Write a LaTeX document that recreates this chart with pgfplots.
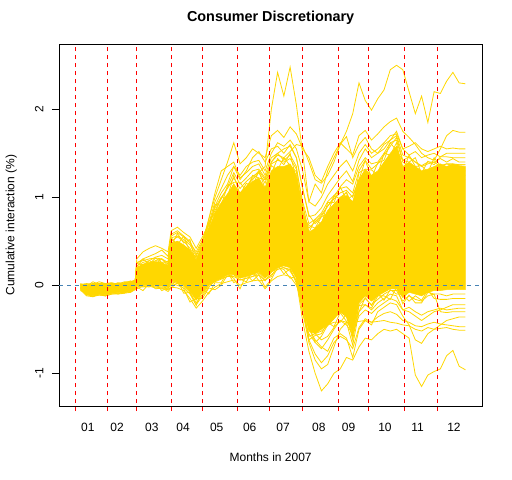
\documentclass[border=0pt]{standalone}
\usepackage{pgfplots}
\pgfplotsset{compat=1.18}
\usepackage{pgfplotstable}
\usepackage{fontspec}
\setmainfont{Liberation Sans}
\definecolor{rgold}{RGB}{255,215,0}
\definecolor{steel}{RGB}{70,130,180}

\pgfplotstableread{
t a b c d e f g h i j k l m n o p
3 0.00 0.00 -0.01 0.01 -0.05 -0.04 -0.03 -0.04 -0.03 0.00 0.00 -0.01 -0.02 0.01 -0.02 0.00
7 -0.01 0.00 -0.02 0.01 -0.12 -0.10 -0.08 -0.11 -0.10 -0.02 -0.01 -0.03 -0.07 0.00 -0.09 -0.04
11 0.00 0.01 -0.01 0.02 -0.13 -0.11 -0.09 -0.12 -0.12 -0.02 0.00 -0.04 -0.08 0.01 -0.10 -0.05
15 0.01 0.01 0.00 0.02 -0.11 -0.09 -0.08 -0.10 -0.11 -0.01 0.00 -0.03 -0.07 0.02 -0.09 -0.04
19 0.01 0.02 0.00 0.02 -0.12 -0.10 -0.09 -0.11 -0.12 -0.01 0.01 -0.03 -0.08 0.02 -0.10 -0.04
23 0.00 0.01 0.01 0.02 -0.10 -0.08 -0.07 -0.09 -0.10 0.00 0.01 -0.02 -0.06 0.01 -0.08 -0.03
27 0.01 0.02 0.00 0.02 -0.10 -0.08 -0.06 -0.09 -0.09 0.00 0.01 -0.02 -0.05 0.01 -0.07 -0.03
31 0.02 0.02 0.01 0.03 -0.09 -0.07 -0.06 -0.08 -0.08 0.01 0.02 -0.01 -0.05 0.02 -0.07 -0.02
35 0.03 0.03 0.02 0.04 -0.08 -0.06 -0.05 -0.07 -0.07 0.01 0.02 0.00 -0.04 0.03 -0.06 -0.01
38 0.04 0.05 0.03 0.05 -0.05 -0.03 -0.02 -0.04 -0.04 0.02 0.03 0.02 -0.01 0.04 -0.03 0.01
39 0.20 0.25 0.30 0.26 0.00 0.02 0.05 0.00 -0.01 0.18 0.15 0.12 0.08 0.22 0.03 0.10
43 0.24 0.30 0.38 0.28 -0.01 0.01 0.06 0.00 -0.02 0.22 0.18 0.15 0.10 0.26 0.02 0.12
47 0.22 0.33 0.42 0.30 0.00 0.03 0.08 0.01 -0.01 0.25 0.20 0.18 0.12 0.28 0.04 0.14
51 0.26 0.36 0.45 0.31 -0.02 0.01 0.07 -0.01 -0.03 0.28 0.22 0.20 0.10 0.32 0.03 0.16
55 0.24 0.40 0.42 0.30 -0.03 0.00 0.05 -0.02 -0.04 0.30 0.20 0.18 0.08 0.34 0.02 0.15
59 0.20 0.33 0.38 0.26 -0.04 -0.01 0.03 -0.03 -0.05 0.24 0.17 0.14 0.06 0.30 0.00 0.12
61 0.45 0.58 0.62 0.54 0.02 0.10 0.20 0.04 -0.02 0.50 0.40 0.42 0.25 0.56 0.15 0.35
65 0.50 0.62 0.66 0.56 0.00 0.08 0.18 0.02 -0.03 0.55 0.45 0.48 0.22 0.60 0.12 0.38
69 0.44 0.56 0.60 0.52 -0.03 0.05 0.14 -0.01 -0.06 0.50 0.40 0.45 0.18 0.55 0.08 0.35
73 0.40 0.50 0.55 0.46 -0.10 -0.02 0.05 -0.08 -0.15 0.42 0.35 0.38 0.10 0.48 0.00 0.30
77 0.28 0.35 0.42 0.33 -0.22 -0.15 -0.08 -0.20 -0.26 0.30 0.22 0.25 -0.02 0.38 -0.12 0.18
81 0.42 0.50 0.55 0.48 -0.12 -0.05 0.02 -0.10 -0.18 0.45 0.38 0.45 0.08 0.52 -0.02 0.32
85 0.62 0.75 0.70 0.70 -0.02 0.05 0.15 0.00 -0.08 0.65 0.58 0.75 0.22 0.68 0.10 0.50
89 0.80 1.00 0.95 0.88 0.05 0.10 0.25 0.04 -0.02 0.90 0.78 1.05 0.32 0.85 0.18 0.65
93 0.92 1.20 1.10 1.00 0.08 0.12 0.30 0.07 0.02 1.05 0.90 1.30 0.38 0.98 0.22 0.75
97 1.02 1.40 1.25 1.10 0.10 0.15 0.32 0.10 0.04 1.15 1.00 1.35 0.42 1.12 0.25 0.85
101 1.10 1.62 1.35 1.22 0.12 0.18 0.35 0.10 0.06 1.35 1.15 1.40 0.45 1.28 0.28 0.95
105 1.05 1.38 1.25 1.10 0.06 0.12 0.28 0.06 0.00 1.20 1.02 1.22 0.38 1.15 0.20 0.85
109 1.12 1.45 1.35 1.18 0.08 0.15 0.30 0.08 0.03 1.30 1.12 1.28 0.40 1.22 0.22 0.92
113 1.20 1.55 1.40 1.24 0.10 0.18 0.34 0.10 0.05 1.45 1.22 1.35 0.44 1.30 0.26 0.98
117 1.28 1.50 1.42 1.28 0.12 0.20 0.36 0.14 0.06 1.52 1.30 1.38 0.48 1.32 0.28 1.05
121 1.35 1.45 1.30 1.16 0.05 0.10 0.25 0.06 -0.04 1.40 1.20 1.25 0.35 1.22 0.18 0.95
125 2.00 1.70 1.50 1.38 0.15 0.25 0.40 0.12 0.05 1.55 1.40 1.45 0.50 1.40 0.30 1.15
129 2.42 1.76 1.62 1.42 0.22 0.30 0.45 0.18 0.10 1.58 1.48 1.50 0.55 1.50 0.35 1.22
133 2.15 1.68 1.58 1.40 0.20 0.28 0.48 0.20 0.12 1.50 1.45 1.42 0.58 1.55 0.36 1.25
137 2.48 1.80 1.65 1.44 0.18 0.26 0.45 0.16 0.10 1.60 1.52 1.48 0.55 1.58 0.34 1.28
141 2.05 1.72 1.55 1.32 0.05 0.12 0.35 0.05 0.00 1.45 1.60 1.35 0.45 1.45 0.22 1.18
145 1.50 1.55 1.30 0.95 -0.40 -0.30 -0.10 -0.30 -0.20 1.10 1.58 0.90 0.00 1.10 -0.20 0.80
149 0.95 1.45 0.95 0.70 -0.75 -0.65 -0.50 -0.58 -0.45 0.80 1.40 0.60 -0.40 0.78 -0.62 0.65
153 1.15 1.25 0.90 0.75 -1.00 -0.85 -0.62 -0.55 -0.65 0.70 1.20 0.55 -0.55 0.80 -0.78 0.72
157 1.05 1.18 1.00 0.82 -1.20 -0.95 -0.70 -0.52 -0.72 0.78 1.16 0.65 -0.62 0.88 -0.88 0.80
161 1.30 1.35 1.15 0.95 -1.12 -0.90 -0.75 -0.46 -0.62 0.90 1.25 0.80 -0.58 1.02 -0.80 0.90
165 1.45 1.50 1.25 1.02 -1.00 -0.70 -0.60 -0.38 -0.50 1.00 1.40 0.92 -0.48 1.12 -0.65 0.98
169 1.60 1.62 1.35 1.10 -0.95 -0.50 -0.55 -0.30 -0.40 1.12 1.60 1.00 -0.40 1.22 -0.58 1.05
173 1.75 1.55 1.42 1.12 -0.82 -0.42 -0.60 -0.36 -0.42 1.20 1.69 1.05 -0.45 1.30 -0.62 1.08
177 1.95 1.48 1.30 1.05 -0.85 -0.42 -0.82 -0.58 -0.68 1.15 1.45 0.85 -0.55 1.18 -0.72 1.00
181 2.30 1.70 1.50 1.30 -0.70 -0.41 -0.50 -0.22 -0.30 1.35 1.60 1.15 -0.35 1.42 -0.48 1.20
185 2.10 1.76 1.60 1.42 -0.60 -0.40 -0.40 -0.15 -0.22 1.45 1.68 1.30 -0.28 1.55 -0.38 1.30
189 1.99 1.65 1.50 1.32 -0.62 -0.42 -0.45 -0.22 -0.28 1.38 1.55 1.20 -0.32 1.45 -0.42 1.22
193 2.12 1.72 1.55 1.38 -0.55 -0.41 -0.30 -0.16 -0.20 1.40 1.50 1.25 -0.25 1.50 -0.36 1.28
197 2.22 1.80 1.62 1.48 -0.50 -0.40 -0.25 -0.10 -0.15 1.50 1.55 1.35 -0.20 1.60 -0.32 1.38
201 2.45 1.86 1.70 1.58 -0.52 -0.42 -0.20 -0.06 -0.10 1.62 1.65 1.45 -0.15 1.65 -0.30 1.48
205 2.50 1.90 1.72 1.68 -0.50 -0.43 -0.22 -0.06 -0.12 1.65 1.70 1.55 -0.18 1.75 -0.33 1.55
209 2.45 1.75 1.55 1.42 -0.55 -0.45 -0.35 -0.18 -0.28 1.40 1.48 1.30 -0.28 1.55 -0.40 1.30
213 2.20 1.68 1.48 1.46 -0.60 -0.46 -0.45 -0.12 -0.25 1.35 1.45 1.35 -0.30 1.58 -0.42 1.32
217 1.95 1.60 1.52 1.40 -1.02 -0.50 -0.62 -0.16 -0.30 1.30 1.40 1.28 -0.35 1.62 -0.46 1.28
221 2.15 1.50 1.45 1.36 -1.15 -0.52 -0.66 -0.18 -0.34 1.28 1.35 1.20 -0.40 1.55 -0.47 1.25
225 1.85 1.45 1.48 1.40 -1.02 -0.48 -0.55 -0.12 -0.30 1.25 1.38 1.22 -0.35 1.52 -0.44 1.28
229 2.20 1.42 1.50 1.40 -0.98 -0.50 -0.50 -0.10 -0.28 1.24 1.40 1.25 -0.30 1.55 -0.42 1.30
233 2.18 1.55 1.46 1.44 -0.95 -0.49 -0.45 -0.10 -0.26 1.26 1.35 1.20 -0.28 1.58 -0.44 1.32
237 2.32 1.70 1.50 1.40 -0.80 -0.48 -0.40 -0.12 -0.28 1.25 1.38 1.20 -0.25 1.55 -0.45 1.30
241 2.42 1.76 1.50 1.44 -0.74 -0.50 -0.38 -0.10 -0.27 1.25 1.38 1.20 -0.22 1.56 -0.46 1.30
245 2.30 1.74 1.50 1.40 -0.92 -0.51 -0.36 -0.10 -0.26 1.25 1.37 1.20 -0.22 1.55 -0.47 1.30
249 2.29 1.74 1.50 1.40 -0.96 -0.51 -0.36 -0.10 -0.26 1.25 1.37 1.20 -0.22 1.55 -0.47 1.30
}\data

\pgfplotstableread{
t q r s u
3 0.02 -0.06 0.01 -0.03
7 -0.01 -0.09 0.02 -0.11
11 0.04 -0.13 0.01 -0.10
15 0.01 -0.09 0.04 -0.11
19 0.02 -0.12 0.02 -0.10
23 0.00 -0.07 0.03 -0.09
27 0.03 -0.10 0.01 -0.07
31 0.02 -0.07 0.04 -0.09
35 0.05 -0.08 0.04 -0.05
38 0.03 -0.02 0.06 -0.04
39 0.25 -0.04 0.21 -0.02
43 0.23 -0.01 0.30 -0.06
47 0.28 -0.02 0.24 0.02
51 0.24 0.02 0.31 -0.04
55 0.30 -0.06 0.26 -0.03
59 0.22 -0.03 0.27 -0.07
61 0.54 0.00 0.45 -0.03
65 0.46 0.06 0.59 0.03
69 0.56 -0.09 0.48 -0.04
73 0.38 -0.08 0.52 -0.19
77 0.32 -0.23 0.23 -0.15
81 0.38 -0.04 0.51 -0.15
85 0.72 -0.10 0.64 -0.03
89 0.82 0.03 0.92 -0.05
93 1.00 0.03 0.91 0.00
97 1.00 0.15 1.13 0.12
101 1.25 0.03 1.17 0.08
105 1.03 0.07 1.17 -0.04
109 1.16 0.04 1.07 0.12
113 1.12 0.16 1.25 0.05
117 1.30 0.05 1.22 0.12
121 1.10 0.06 1.20 -0.02
125 1.36 0.10 1.27 0.07
129 1.31 0.23 1.44 0.20
133 1.45 0.13 1.37 0.18
137 1.36 0.19 1.50 0.08
141 1.29 0.02 1.20 0.10
145 0.79 -0.21 0.92 -0.32
149 0.68 -0.62 0.60 -0.55
153 0.65 -0.57 0.75 -0.65
157 0.78 -0.55 0.69 -0.58
161 0.81 -0.42 0.94 -0.45
165 1.02 -0.47 0.94 -0.42
169 0.98 -0.31 1.12 -0.42
173 1.06 -0.41 0.97 -0.33
177 0.89 -0.51 1.02 -0.62
181 1.28 -0.30 1.20 -0.23
185 1.32 -0.14 1.42 -0.22
189 1.31 -0.23 1.22 -0.26
193 1.26 -0.09 1.39 -0.12
197 1.50 -0.17 1.42 -0.12
201 1.48 -0.05 1.62 -0.16
205 1.62 -0.10 1.53 -0.02
209 1.29 -0.10 1.42 -0.21
213 1.48 -0.18 1.40 -0.11
217 1.35 -0.12 1.45 -0.20
221 1.36 -0.17 1.27 -0.20
225 1.28 -0.05 1.41 -0.08
229 1.45 -0.15 1.37 -0.10
233 1.36 -0.16 1.46 -0.30
237 1.38 -0.16 1.46 -0.31
241 1.36 -0.15 1.45 -0.30
245 1.37 -0.15 1.45 -0.30
249 1.37 -0.15 1.45 -0.30
}\extra

\pgfplotstableread{
t y
3 0.00
7 0.00
11 0.01
15 0.01
19 0.01
23 0.01
27 0.01
31 0.02
35 0.03
38 0.04
39 0.20
43 0.24
47 0.26
51 0.27
55 0.26
59 0.22
61 0.48
65 0.50
69 0.46
73 0.40
77 0.28
81 0.44
85 0.64
89 0.82
93 0.94
97 1.04
101 1.15
105 1.05
109 1.12
113 1.18
117 1.22
121 1.10
125 1.30
129 1.35
133 1.35
137 1.38
141 1.25
145 0.85
149 0.60
153 0.65
157 0.72
161 0.85
165 0.92
169 1.00
173 1.02
177 0.95
181 1.20
185 1.32
189 1.25
193 1.30
197 1.40
201 1.50
205 1.58
209 1.35
213 1.40
217 1.35
221 1.30
225 1.32
229 1.35
233 1.38
237 1.35
241 1.38
245 1.36
249 1.35
249 -0.05
245 -0.05
241 -0.05
237 -0.05
233 -0.06
229 -0.06
225 -0.08
221 -0.12
217 -0.10
213 -0.08
209 -0.14
205 -0.04
201 -0.04
197 -0.08
193 -0.12
189 -0.18
185 -0.12
181 -0.20
177 -0.55
173 -0.35
169 -0.30
165 -0.38
161 -0.45
157 -0.50
153 -0.55
149 -0.52
145 -0.25
141 0.08
137 0.20
133 0.22
129 0.20
125 0.15
121 0.08
117 0.15
113 0.12
109 0.10
105 0.08
101 0.12
97 0.12
93 0.08
89 0.05
85 0.00
81 -0.08
77 -0.17
73 -0.07
69 0.00
65 0.03
61 0.05
59 -0.02
55 -0.01
51 0.00
47 0.01
43 0.00
39 0.00
38 -0.03
35 -0.06
31 -0.07
27 -0.08
23 -0.08
19 -0.10
15 -0.09
11 -0.11
7 -0.10
3 -0.04
}\core

\begin{document}
\fontsize{12bp}{14bp}\selectfont
\begin{tikzpicture}
\path[use as bounding box] (0,0) rectangle (512bp,480bp);
\begin{axis}[
  at={(59.3bp,74bp)}, anchor=south west,
  scale only axis, width=422.7bp, height=362bp,
  xmin=-10.48, xmax=259.6, ymin=-1.3716, ymax=2.742,
  clip=false,
  axis line style={black, line width=0.75bp},
  ytick={-1,0,1,2}, yticklabels={-1,0,1,2},
  ytick pos=left, xtick pos=left,
  tick align=outside,
  major tick length=7.5bp,
  tick style={black, line width=0.75bp},
  yticklabel style={xshift=-8.5bp, rotate=90, anchor=base},
  xtick={7.7,26.4,48.6,68.6,90.1,111.2,132.5,155.3,174.4,197.6,218.5,241.7},
  xticklabels={01,02,03,04,05,06,07,08,09,10,11,12},
  xtick style={draw=none},
  xticklabel style={anchor=base, yshift=-18.5bp},
  title={Consumer Discretionary},
  title style={at={(axis description cs:0.5,1.047)}, anchor=base, font=\fontsize{14.4bp}{16bp}\selectfont\bfseries},
  xlabel={Months in 2007},
  xlabel style={at={(axis description cs:0.5,-0.1533)}, anchor=base},
  ylabel={Cumulative interaction (\%)},
  ylabel style={at={(axis description cs:-0.1065,0.5)}, anchor=base},
]
\addplot[fill=rgold, draw=rgold, line width=0.5bp, no marks] table[x=t,y=y]{\core};
\pgfplotsinvokeforeach{a,b,c,d,e,f,g,h,i,j,k,l,m,n,o,p}{
  \addplot[rgold, no marks, line width=0.8bp] table[x=t,y=#1]{\data};
}
\pgfplotsinvokeforeach{q,r,s,u}{
  \addplot[rgold, no marks, line width=0.8bp] table[x=t,y=#1]{\extra};
}
\addplot[steel, no marks, line width=0.75bp, dash pattern=on 4bp off 4bp] coordinates {(-10.48,0) (259.6,0)};
\pgfplotsinvokeforeach{0,20,39,61,81,103,124,145,168,187,210,231}{
  \addplot[red, no marks, line width=0.75bp, dash pattern=on 4bp off 4bp] coordinates {(#1,-1.429) (#1,2.742)};
}
\end{axis}
\end{tikzpicture}
\end{document}
